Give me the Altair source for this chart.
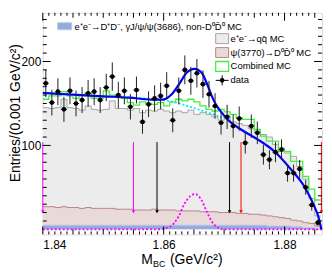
import altair as alt
import pandas as pd

# ---------------- data ----------------
X_MIN, X_MAX = 1.840, 1.8862
Y_MIN, Y_MAX = -6, 258
W, H = 281, 223

nbins = 46
bin_lo = [round(1.840 + 0.001 * i, 4) for i in range(nbins)]

data_y = [174, 151, 164, 143, 165, 150, 154, 162, 164, 154,
          169, 182, 160, 165, 146, 166, 128, 149, 156, 159,
          171, 130, 165, 190, 177, 186, 173, 161, 147, 127,
          134, 123, 132, 103, 123, 115, 89, 83, 92, 95,
          67, 67, 72, 50, 29, 8]
data_err = [16.5, 15.4, 16.0, 15.0, 16.0, 15.3, 15.5, 15.9, 16.0, 15.5,
            16.3, 16.9, 15.8, 16.0, 15.1, 16.1, 14.1, 15.3, 15.6, 15.8,
            16.3, 14.3, 16.0, 17.2, 16.6, 17.0, 16.4, 15.9, 15.2, 14.1,
            14.5, 13.9, 14.4, 12.7, 13.9, 13.4, 11.8, 11.4, 12.0, 12.2,
            10.2, 10.2, 10.6, 8.8, 6.7, 3.5]

green_mc = [155, 159, 159, 164, 159, 156, 160, 163, 156, 156,
            165, 160, 158, 156, 151, 148, 152, 150, 149, 151,
            147, 152, 155, 153, 155, 152, 147, 143, 141, 143,
            140, 137, 133, 131, 131, 119, 111, 105, 105, 93,
            93, 81, 81, 63, 48, 35]
grey_qq = [118, 117, 119, 128, 119, 118, 117, 121, 118, 117,
           118, 128, 120, 120, 118, 121, 116, 119, 117, 120,
           118, 116, 119, 117, 120, 115, 118, 116, 113, 110,
           115, 108, 107, 105, 102, 99, 96, 94, 86, 83,
           78, 76, 65, 52, 30, 12]
brown_psi = [22, 22, 21, 22, 21, 21, 20, 21, 20, 20,
             20, 20, 19, 19, 19, 18, 18, 18, 19, 18,
             18, 18, 17, 17, 17, 17, 16, 16, 16, 15,
             15, 15, 14, 14, 13, 13, 12, 12, 11, 10,
             9, 8, 7, 6, 5, 3]
blue_dd = [5, 5, 5, 5, 5, 5, 5, 5, 5, 5,
           5, 5, 5, 5, 5, 5, 5, 5, 5, 5,
           5, 5, 5, 5, 5, 5, 5, 5, 5, 5,
           5, 5, 5, 5, 5, 5, 5, 4, 4, 4,
           4, 3, 3, 2, 2, 1]

fit_x = [1.8400, 1.8450, 1.8500, 1.8543, 1.8580, 1.8597, 1.8613, 1.8627, 1.8638,
         1.8651, 1.8663, 1.8671, 1.8679, 1.8687, 1.8695, 1.8707, 1.8728, 1.8756,
         1.8783, 1.8810, 1.8832, 1.8849, 1.8856, 1.8861]
fit_y = [162.5, 160.5, 158.5, 157.0, 154.5, 154.5, 160.7, 174.6, 186.5,
         191.3, 186.5, 174.6, 160.0, 148.0, 140.0, 130.0, 119.0, 107.0,
         93.0, 72.0, 52.0, 28.0, 15.0, 0.0]

bkg_x = [1.8540, 1.8585, 1.8620, 1.8650, 1.8680, 1.8705]
bkg_y = [157.0, 155.0, 151.0, 144.5, 137.5, 131.0]

sig_x = [1.8400, 1.8590, 1.8610, 1.8625, 1.8634, 1.8644, 1.8652, 1.8662,
         1.8672, 1.8683, 1.8699, 1.8862]
sig_y = [0, 0, 3, 15.8, 29.8, 39.6, 42, 35.7, 20, 6, 0, 0]

arrow_x = [1.8400, 1.8550, 1.8589, 1.8709, 1.8728, 1.8861]
arrow_col = ["magenta", "magenta", "black", "black", "red", "red"]
arrow_top = 104
arrow_bot = 21

x_major = [1.84, 1.86, 1.88]
y_major = [100, 200]

# ---------------- tables ----------------
edges = bin_lo + [round(bin_lo[-1] + 0.001, 4)]
def step_df(vals):
    return pd.DataFrame({"x": edges, "y": vals + [vals[-1]]})

grey_top = [b + c + q for b, c, q in zip(blue_dd, brown_psi, grey_qq)]
brown_top = [b + c for b, c in zip(blue_dd, brown_psi)]

pts = pd.DataFrame({
    "xc": [v + 0.0005 for v in bin_lo],
    "lo": bin_lo,
    "hi": [v + 0.001 for v in bin_lo],
    "y": data_y,
    "ylo": [a - e for a, e in zip(data_y, data_err)],
    "yhi": [a + e for a, e in zip(data_y, data_err)],
})

xs = alt.Scale(domain=[X_MIN, X_MAX], nice=False, zero=False)
ys = alt.Scale(domain=[Y_MIN, Y_MAX], nice=False, zero=False)
FONT = "Liberation Sans"

x_axis = alt.Axis(values=x_major, format=".2f", ticks=False, domain=False, grid=False,
                  labelFont=FONT, labelFontSize=12, labelColor="black", labelPadding=5,
                  title=None)
y_axis = alt.Axis(values=y_major, format="d", ticks=False, domain=False, grid=False,
                  labelFont=FONT, labelFontSize=12, labelColor="black", labelPadding=2,
                  title=None)

def X(f="x"):
    return alt.X(f + ":Q", scale=xs, axis=x_axis)
def Y(f="y"):
    return alt.Y(f + ":Q", scale=ys, axis=y_axis)

layers = []
# filled stacked MC histograms
for vals, col in [(grey_top, "#ececec"), (brown_top, "#ead9d9"), (blue_dd, "#93aadd")]:
    layers.append(alt.Chart(step_df(vals)).mark_area(interpolate="step-after", color=col)
                  .encode(x=X(), y=Y(), y2=alt.value(H)))

for vals, col, w in [(grey_top, "#a5a5a5", 1), (brown_top, "#b98585", 1),
                     (blue_dd, "#b8c8ee", 1), (green_mc, "#40f040", 1.3)]:
    layers.append(alt.Chart(step_df(vals)).mark_line(interpolate="step-after", color=col,
                                                     strokeWidth=w)
                  .encode(x=X(), y=Y()))

# arrows
arr = pd.DataFrame({"x": arrow_x, "c": arrow_col, "top": [arrow_top] * 6, "bot": [arrow_bot] * 6})
layers.append(alt.Chart(arr).mark_rule(strokeWidth=1)
              .encode(x=X(), y=Y("top"), y2=alt.Y2("bot"),
                      color=alt.Color("c:N", scale=None)))
layers.append(alt.Chart(arr).mark_point(shape="triangle-down", filled=True, size=14, opacity=1)
              .encode(x=X(), y=Y("bot"), color=alt.Color("c:N", scale=None)))

# signal and background components
layers.append(alt.Chart(pd.DataFrame({"x": sig_x, "y": sig_y}))
              .mark_line(color="#ff00ff", strokeWidth=1.8, strokeDash=[2, 2], interpolate="monotone")
              .encode(x=X(), y=Y()))
layers.append(alt.Chart(pd.DataFrame({"x": bkg_x, "y": bkg_y}))
              .mark_line(color="#00e5ff", strokeWidth=1.8, strokeDash=[2, 2], interpolate="monotone")
              .encode(x=X(), y=Y()))
layers.append(alt.Chart(pd.DataFrame({"x": fit_x, "y": fit_y}))
              .mark_line(color="#0000ff", strokeWidth=2.2, interpolate="monotone")
              .encode(x=X(), y=Y()))

# data points
layers.append(alt.Chart(pts).mark_rule(color="#222222", strokeWidth=1)
              .encode(x=X("xc"), y=Y("ylo"), y2=alt.Y2("yhi")))
layers.append(alt.Chart(pts).mark_rule(color="#222222", strokeWidth=1)
              .encode(x=X("lo"), x2=alt.X2("hi"), y=Y("y")))
layers.append(alt.Chart(pts).mark_point(shape="circle", filled=True, size=22, color="black", opacity=1)
              .encode(x=X("xc"), y=Y("y")))

# frame ticks (ROOT style, inside)
xt_major = pd.DataFrame({"x": x_major})
xt_mid = pd.DataFrame({"x": [1.845, 1.85, 1.855, 1.865, 1.87, 1.875, 1.885]})
xt_minor = pd.DataFrame({"x": [round(1.841 + 0.001 * i, 3) for i in range(45)
                               if round((1.841 + 0.001 * i) * 1000) % 5 != 0]})
for df, ln in [(xt_major, 8), (xt_mid, 5), (xt_minor, 3)]:
    layers.append(alt.Chart(df).mark_rule(color="black").encode(x=X(), y=alt.value(H), y2=alt.value(H - ln)))
    layers.append(alt.Chart(df).mark_rule(color="black").encode(x=X(), y=alt.value(0), y2=alt.value(ln)))
yt_major = pd.DataFrame({"y": y_major})
yt_minor = pd.DataFrame({"y": [v for v in range(10, 260, 10) if v % 100 != 0]})
for df, ln in [(yt_major, 8), (yt_minor, 4)]:
    layers.append(alt.Chart(df).mark_rule(color="black").encode(y=Y(), x=alt.value(0), x2=alt.value(ln)))
    layers.append(alt.Chart(df).mark_rule(color="black").encode(y=Y(), x=alt.value(W), x2=alt.value(W - ln)))

one = pd.DataFrame({"a": [0]})
def box(x1, x2, y1, y2, fill, stroke, sw=1):
    return alt.Chart(one).mark_rect(fill=fill, stroke=stroke, strokeWidth=sw).encode(
        x=alt.value(x1), x2=alt.value(x2), y=alt.value(y1), y2=alt.value(y2))
def txt(x, y, s, size=9.5, align="left", angle=0, baseline="middle"):
    return alt.Chart(one).mark_text(align=align, baseline=baseline, font=FONT, fontSize=size,
                                    color="black", angle=angle).encode(
        x=alt.value(x), y=alt.value(y), text=alt.value(s))

leg1 = "e⁺e⁻→D⁺D⁻, γJ/ψ/ψ(3686), non-D⁰D\u0304⁰ MC"
leg2 = "e⁺e⁻→qq\u0304 MC"
leg3 = "ψ(3770)→D⁰D\u0304⁰ MC"
leg4 = "Combined MC"
leg5 = "data"

layers += [
    box(15, 29, 10, 17, "#93aadd", "#b8c8ee"),
    txt(32, 14, leg1),
    box(174, 187, 21, 31, "#ececec", "#a5a5a5"),
    txt(189, 26, leg2),
    box(174, 187, 35, 45, "#ead9d9", "#b98585"),
    txt(189, 40, leg3),
    box(174, 187, 49, 59, "white", "#40f040", 1.3),
    txt(189, 54, leg4),
    alt.Chart(one).mark_rule(color="black").encode(x=alt.value(174), x2=alt.value(187), y=alt.value(68)),
    alt.Chart(one).mark_rule(color="black").encode(x=alt.value(180.5), y=alt.value(63), y2=alt.value(73)),
    alt.Chart(one).mark_point(shape="circle", filled=True, size=22, color="black", opacity=1)
    .encode(x=alt.value(180.5), y=alt.value(68)),
    txt(189, 68, leg5),
    # axis titles
    txt(-27, 101, "Entries/(0.001 GeV/c²)", size=14, align="center", angle=270),
    txt(99, 253, "M", size=14, baseline="alphabetic"),
    txt(111, 256, "BC", size=9, baseline="alphabetic"),
    txt(128, 253, "(GeV/c²)", size=14, baseline="alphabetic"),
]

chart = alt.layer(*layers).properties(
    width=W, height=H,
    autosize=alt.AutoSizeParams(type="none"),
    padding={"left": 35, "top": 4, "right": 2, "bottom": 36},
).configure_view(stroke="black", strokeWidth=1).configure(background="white")

chart.save("out.html", embed_options={"renderer": "svg", "actions": False})
